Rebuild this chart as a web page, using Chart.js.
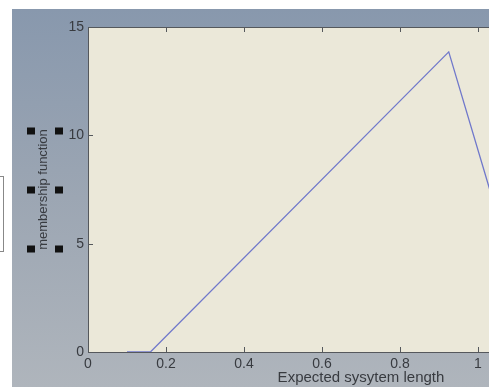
<!DOCTYPE html>
<html>
<head>
<meta charset="utf-8">
<script src="https://cdn.jsdelivr.net/npm/chart.js@4.4.1/dist/chart.umd.min.js"></script>
<style>
  html, body { margin: 0; padding: 0; background: #fff; overflow: hidden; width: 489px; height: 387px; }
  #frame {
    position: absolute; left: 12px; top: 9px; width: 650px; height: 378px;
    background: linear-gradient(180deg, #8898ad 0%, #9ca6b3 50%, #afb5bc 100%);
  }
  #edge { position: absolute; left: 0; top: 176px; width: 3px; height: 74px; border: 1px solid #888; border-left: none; }
</style>
</head>
<body>
<div id="edge"></div>
<div id="frame"><canvas id="mf" width="650" height="378"></canvas></div>
<script>
// membership curve (x: expected system length, y: membership)
const xVals = [0.10, 0.16, 0.925, 1.04];
const yVals = [0, 0, 13.85, 6.9];
const xTicks = [0, 0.2, 0.4, 0.6, 0.8, 1, 1.2, 1.4];
const yTicks = [0, 5, 10, 15];

const TEXT = '#383b40';
const TICK_FONT = { family: 'Liberation Sans, Arial, sans-serif', size: 14 };

// cream axes background + boxed axes with inward ticks (matlab style)
const matlabBox = {
  id: 'matlabBox',
  beforeDraw(chart) {
    const { ctx, chartArea: a } = chart;
    ctx.save();
    ctx.fillStyle = '#ebe8d9';
    ctx.fillRect(a.left, a.top, a.right - a.left, a.bottom - a.top);
    ctx.restore();
  },
  afterDraw(chart) {
    const { ctx, chartArea: a, scales } = chart;
    ctx.save();
    ctx.strokeStyle = '#55585c';
    ctx.lineWidth = 1;
    ctx.strokeRect(a.left + 0.5, a.top + 0.5, a.right - a.left, a.bottom - a.top);
    ctx.beginPath();
    xTicks.forEach(v => {
      const px = Math.round(scales.x.getPixelForValue(v)) + 0.5;
      ctx.moveTo(px, a.bottom); ctx.lineTo(px, a.bottom - 5);
      ctx.moveTo(px, a.top); ctx.lineTo(px, a.top + 5);
    });
    yTicks.forEach(v => {
      const py = Math.round(scales.y.getPixelForValue(v)) + 0.5;
      ctx.moveTo(a.left, py); ctx.lineTo(a.left + 5, py);
      ctx.moveTo(a.right, py); ctx.lineTo(a.right - 5, py);
    });
    ctx.stroke();

    // selection handles around the y label
    const cy = (a.top + a.bottom) / 2 + 1;
    ctx.fillStyle = '#111';
    [cy - 59, cy, cy + 59].forEach(y => {
      ctx.fillRect(15, y - 4, 8, 7);
      ctx.fillRect(43, y - 4, 8, 7);
    });
    ctx.restore();
  }
};

new Chart(document.getElementById('mf'), {
  type: 'scatter',
  data: {
    datasets: [{
      data: xVals.map((x, i) => ({ x, y: yVals[i] })),
      showLine: true,
      borderColor: '#7078cb',
      borderWidth: 1.3,
      pointRadius: 0,
      tension: 0,
    }],
  },
  options: {
    responsive: false,
    animation: false,
    layout: { padding: { top: 18, right: 28, left: 0, bottom: 0 } },
    plugins: { legend: { display: false }, tooltip: { enabled: false } },
    scales: {
      x: {
        type: 'linear',
        min: 0, max: 1.4,
        afterBuildTicks: s => { s.ticks = xTicks.map(v => ({ value: v })); },
        afterFit: s => { s.height = 35; },
        grid: { display: false, drawTicks: false },
        border: { display: false },
        ticks: { color: TEXT, font: TICK_FONT, padding: 4, callback: v => String(v) },
        title: { display: true, text: 'Expected sysytem length', color: TEXT,
                 font: { family: 'Liberation Sans, Arial, sans-serif', size: 15 }, padding: { top: 0, bottom: 0 } },
      },
      y: {
        min: 0, max: 15,
        afterBuildTicks: s => { s.ticks = yTicks.map(v => ({ value: v })); },
        afterFit: s => { s.width = 76; },
        grid: { display: false, drawTicks: false },
        border: { display: false },
        ticks: { color: TEXT, font: TICK_FONT, padding: 4 },
        title: { display: true, text: 'membership function', color: TEXT,
                 font: { family: 'Liberation Sans, Arial, sans-serif', size: 13 }, padding: { top: 24, bottom: 0 } },
      },
    },
  },
  plugins: [matlabBox],
});
</script>
</body>
</html>
